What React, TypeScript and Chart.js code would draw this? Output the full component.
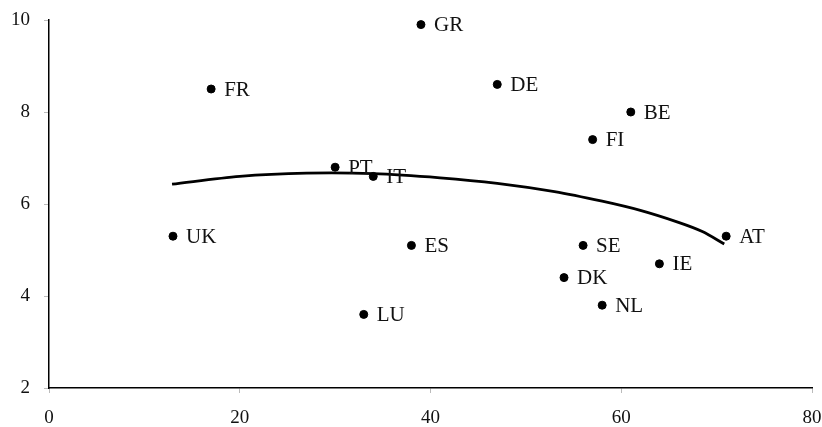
import React, { useEffect, useRef } from "react";
import { Chart, registerables } from "chart.js";

Chart.register(...registerables);

const countries = ["UK", "FR", "GR", "DE", "BE", "FI", "PT", "IT", "ES", "LU", "SE", "DK", "NL", "IE", "AT"];
const xValues = [13, 17, 39, 47, 61, 57, 30, 34, 38, 33, 56, 54, 58, 64, 71];
const yValues = [5.3, 8.5, 9.9, 8.6, 8.0, 7.4, 6.8, 6.6, 5.1, 3.6, 5.1, 4.4, 3.8, 4.7, 5.3];

const trendX = [12.9, 20.0, 27.0, 34.0, 41.0, 47.0, 53.0, 58.0, 62.0, 66.0, 68.5, 70.8];
const trendY = [6.43, 6.6, 6.67, 6.66, 6.57, 6.45, 6.27, 6.06, 5.86, 5.6, 5.4, 5.13];

const xTicks = [0, 20, 40, 60, 80];
const yTicks = [2, 4, 6, 8, 10];

const FONT = "'Liberation Serif', 'Times New Roman', serif";

const labelPlugin = {
  id: "pointLabels",
  afterDatasetsDraw(chart: any) {
    const meta = chart.getDatasetMeta(1);
    const ctx = chart.ctx;
    ctx.save();
    ctx.font = `21px ${FONT}`;
    ctx.fillStyle = "#111";
    ctx.textAlign = "left";
    ctx.textBaseline = "middle";
    meta.data.forEach((pt: any, i: number) => {
      ctx.fillText(countries[i], pt.x + 13, pt.y + 1);
    });
    ctx.restore();
  },
};

export default function App() {
  const ref = useRef<HTMLCanvasElement | null>(null);
  useEffect(() => {
    document.body.style.margin = "0";
    const chart = new Chart(ref.current as HTMLCanvasElement, {
      type: "scatter",
      data: {
        datasets: [
          {
            type: "line",
            data: trendX.map((x, i) => ({ x, y: trendY[i] })),
            borderColor: "#000",
            borderWidth: 2.8,
            pointRadius: 0,
            tension: 0.3,
            fill: false,
          } as any,
          {
            data: xValues.map((x, i) => ({ x, y: yValues[i] })),
            backgroundColor: "#000",
            borderColor: "#000",
            pointRadius: 4,
            pointHoverRadius: 4,
          },
        ],
      },
      options: {
        responsive: false,
        animation: false,
        layout: { padding: { top: 20, right: 10, left: 0, bottom: 0 } },
        plugins: { legend: { display: false }, tooltip: { enabled: false } },
        scales: {
          x: {
            type: "linear",
            min: 0,
            max: 80,
            afterBuildTicks: (axis: any) => {
              axis.ticks = xTicks.map((v) => ({ value: v }));
            },
            afterFit: (axis: any) => {
              axis.height = 39;
              axis.paddingLeft = 0;
              axis.paddingRight = 0;
            },
            grid: { drawOnChartArea: false, drawTicks: true, tickLength: 5, color: "#bbb" },
            border: { color: "#000", width: 1.5 },
            ticks: { color: "#111", font: { family: FONT, size: 19 }, padding: 14, maxRotation: 0 },
          },
          y: {
            type: "linear",
            min: 2,
            max: 10,
            afterBuildTicks: (axis: any) => {
              axis.ticks = yTicks.map((v) => ({ value: v }));
            },
            afterFit: (axis: any) => {
              axis.width = 49;
              axis.paddingTop = 0;
              axis.paddingBottom = 0;
            },
            grid: { drawOnChartArea: false, drawTicks: true, tickLength: 5, color: "#bbb" },
            border: { color: "#000", width: 1.5 },
            ticks: { color: "#111", font: { family: FONT, size: 19 }, padding: 14 },
          },
        },
      },
      plugins: [labelPlugin],
    });
    return () => chart.destroy();
  }, []);
  return (
    <div style={{ width: 822, height: 427 }}>
      <canvas ref={ref} width={822} height={427} />
    </div>
  );
}
